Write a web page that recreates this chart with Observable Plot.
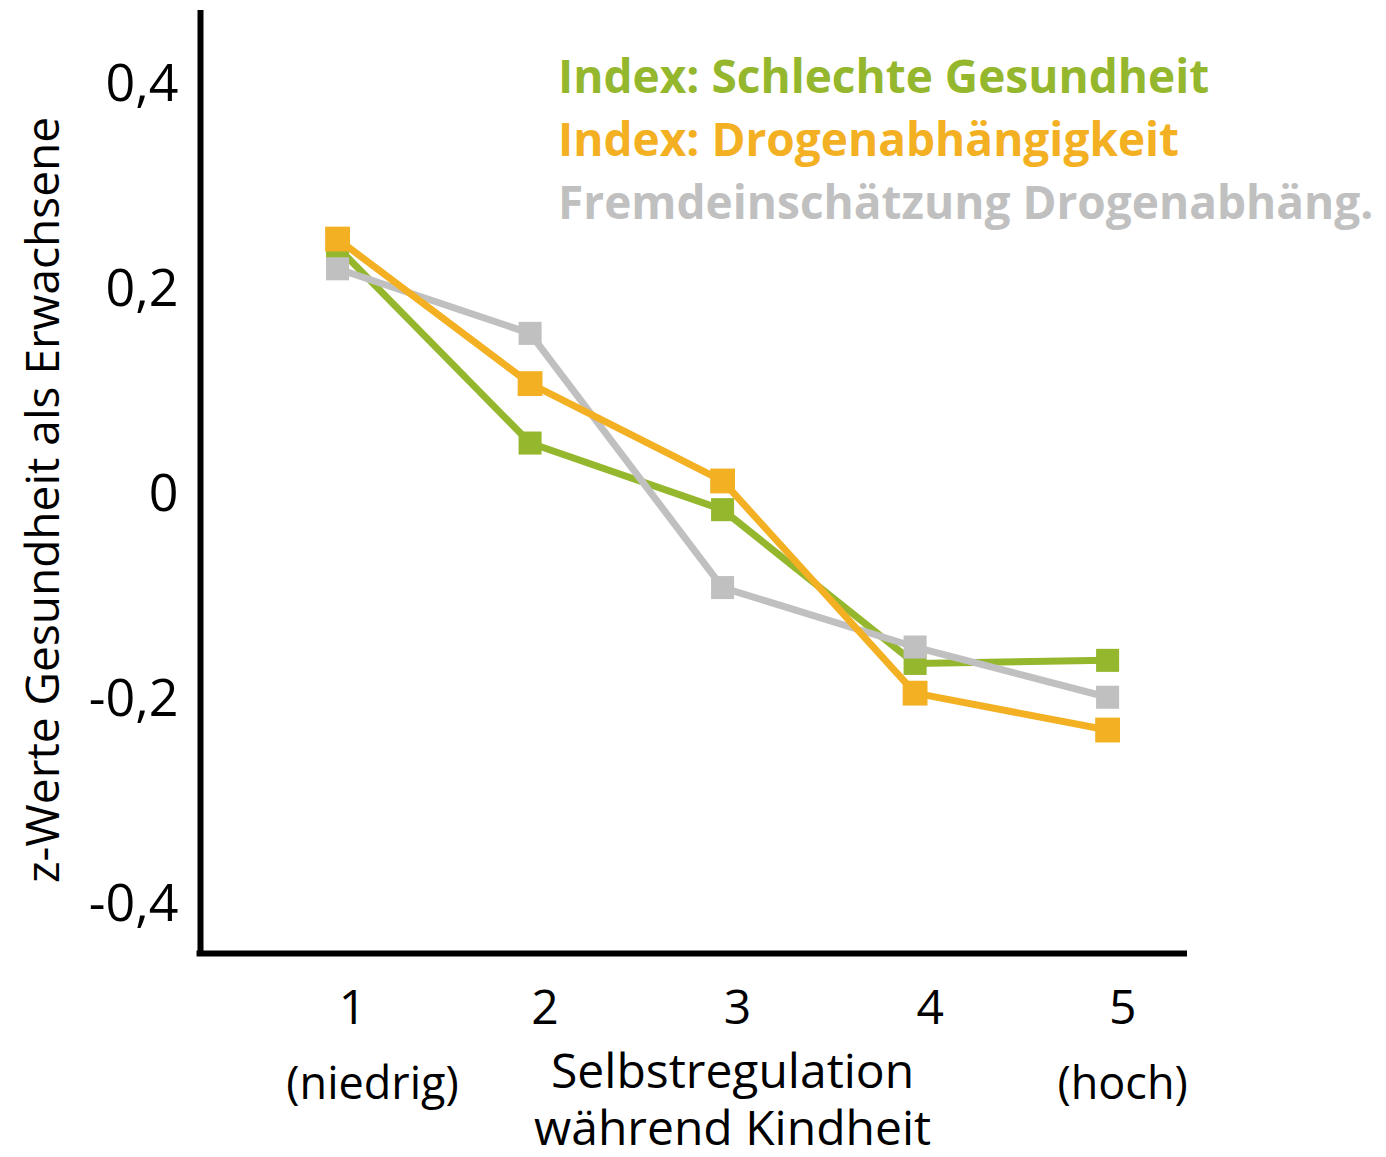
<!DOCTYPE html>
<html>
<head>
<meta charset="utf-8">
<script src="https://cdn.jsdelivr.net/npm/d3@7"></script>
<script src="https://cdn.jsdelivr.net/npm/@observablehq/plot@0.6"></script>
<style>
  html, body { margin: 0; padding: 0; background: #fff; }
  #wrap { position: relative; width: 1386px; height: 1157px; font-family: "Open Sans", sans-serif; }
  #legend { position: absolute; left: 558px; top: 44px; font-weight: 700; font-size: 46px; line-height: 63px; white-space: nowrap; }
  #legend div { height: 63px; }
</style>
</head>
<body>
<div id="wrap"><div id="legend"></div></div>
<script>
// Data
const levels = [1, 2, 3, 4, 5];
const levelLabels = ["1", "2", "3", "4", "5"];
const seriesNames = ["Index: Schlechte Gesundheit", "Index: Drogenabhängigkeit", "Fremdeinschätzung Drogenabhäng."];
const seriesColors = ["#95B72E", "#F3B022", "#C0C0C0"];
const gesundheit = [0.241, 0.050, -0.015, -0.165, -0.162];
const drogen = [0.249, 0.108, 0.013, -0.194, -0.230];
const fremd = [0.220, 0.157, -0.091, -0.149, -0.198];
const yTicks = [-0.4, -0.2, 0, 0.2, 0.4];
const yTitle = "z-Werte Gesundheit als Erwachsene";
const xTitleLines = ["Selbstregulation", "während Kindheit"];
const lowLabel = "(niedrig)";
const highLabel = "(hoch)";

const build = (vals, name) => levels.map((l, i) => ({level: l, value: vals[i], series: name}));
const dGes = build(gesundheit, seriesNames[0]);
const dDro = build(drogen, seriesNames[1]);
const dFre = build(fremd, seriesNames[2]);

const fmt = d => d === 0 ? "0" : String(d).replace(".", ",");

const chart = Plot.plot({
  width: 1386,
  height: 1157,
  marginLeft: 200,
  marginRight: 199,
  marginTop: 10,
  marginBottom: 204,
  style: { fontFamily: "'Open Sans', sans-serif", background: "#fff", overflow: "visible" },
  x: { type: "linear", domain: [0.288, 5.415], axis: null },
  y: { domain: [-0.448, 0.472], axis: null },
  marks: [
    Plot.axisY({ ticks: yTicks, tickFormat: fmt, tickSize: 0, tickPadding: 22, fontSize: 52, fill: "#000", label: null }),
    Plot.text([yTitle], { frameAnchor: "left", textAnchor: "middle", rotate: -90, dx: -156, dy: 18, fontSize: 46, fill: "#000" }),
    Plot.text(levelLabels, { x: (d, i) => levels[i], frameAnchor: "bottom", lineAnchor: "bottom", dx: 15, dy: 70, fontSize: 48, fill: "#000" }),
    Plot.text([lowLabel], { x: [levels[0]], frameAnchor: "bottom", lineAnchor: "bottom", dx: 35, dy: 145, fontSize: 45, fill: "#000" }),
    Plot.text([highLabel], { x: [levels[4]], frameAnchor: "bottom", lineAnchor: "bottom", dx: 15, dy: 145, fontSize: 45, fill: "#000" }),
    Plot.text([xTitleLines[0]], { x: [levels[2]], frameAnchor: "bottom", lineAnchor: "bottom", dx: 10, dy: 134, fontSize: 48, fill: "#000" }),
    Plot.text([xTitleLines[1]], { x: [levels[2]], frameAnchor: "bottom", lineAnchor: "bottom", dx: 10, dy: 191, fontSize: 48, fill: "#000" }),
    Plot.lineY(dGes, { x: "level", y: "value", stroke: seriesColors[0], strokeWidth: 7, strokeLinejoin: "miter" }),
    Plot.dot(dGes, { x: "level", y: "value", symbol: "square", r: 13, fill: seriesColors[0], stroke: null }),
    Plot.lineY(dFre, { x: "level", y: "value", stroke: seriesColors[2], strokeWidth: 7, strokeLinejoin: "miter" }),
    Plot.dot(dFre, { x: "level", y: "value", symbol: "square", r: 13, fill: seriesColors[2], stroke: null }),
    Plot.lineY(dDro, { x: "level", y: "value", stroke: seriesColors[1], strokeWidth: 7, strokeLinejoin: "miter" }),
    Plot.dot(dDro, { x: "level", y: "value", symbol: "square", r: 14, fill: seriesColors[1], stroke: null }),
    Plot.ruleX([0.288], { y1: 0.472, y2: -0.451, stroke: "#000", strokeWidth: 6 }),
    Plot.ruleY([-0.448], { x1: 0.27, x2: 5.415, stroke: "#000", strokeWidth: 6 })
  ]
});

const wrap = document.getElementById("wrap");
wrap.insertBefore(chart, wrap.firstChild);
const legend = document.getElementById("legend");
seriesNames.forEach((n, i) => {
  const d = document.createElement("div");
  d.textContent = n;
  d.style.color = seriesColors[i];
  legend.appendChild(d);
});
</script>
</body>
</html>
